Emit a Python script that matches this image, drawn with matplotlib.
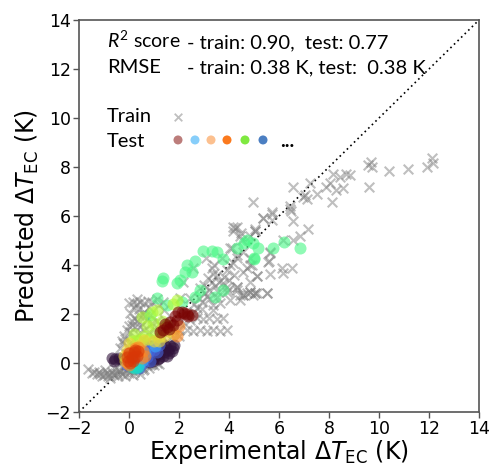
import matplotlib
matplotlib.use("Agg")
import matplotlib.pyplot as plt

# ---------------- data ----------------
train_x = [
    # lower band
    -1.65, -1.5, -1.3, -1.2, -1.0, -0.9, -0.8, -0.7, -0.6, -0.5, -0.4, -0.3, -0.2, -0.1, 0.0, 0.1, 0.2, 0.3, 0.4, 0.5,
    0.6, 0.7, 0.8, 0.9, 1.0, 1.1, 1.2, -1.1, -0.75, -0.45, -0.15, 0.15, 0.45, -0.95, -0.55, -0.25, 0.05, 0.35,
    -1.4, -1.15, -0.85, -0.65, -0.35, -0.05, 0.25, 0.55, 0.85, -0.3, -0.1, 0.1, 0.3, 0.6, 0.9, 1.3, 1.45,
    # left band
    -0.3, -0.2, -0.1, 0.0, 0.1, 0.2, 0.0, 0.15, 0.3, 0.45, 0.6, 0.75, 0.9, 1.1, 0.2, 0.4, 0.6, 0.3, 0.5, 0.7,
    0.9, 1.1, 0.35, 0.6, 0.8, 1.0, 1.3, 1.6, 1.8, 2.0, 0.2, 0.5, -0.1, 0.1, 0.7, 1.0, 1.3, 1.5, 1.7, 2.0,
    -0.35, -0.25, -0.15, 0.05, 0.25, 0.4, 0.55, 0.8, 1.2, 1.4, 0.05, 0.3, 0.1, 0.45, 0.65, 0.85, 1.25, 1.45,
    # rows
    2.3, 2.57, 2.84, 3.1, 3.37, 3.64, 3.9, 2.7, 2.95, 3.2, 3.5, 3.77, 2.45, 2.2,
    # middle cluster
    2.3, 2.6, 2.9, 3.37, 3.64, 4.04, 4.44, 4.3, 4.7, 5.1, 5.5, 5.04, 4.84, 4.57, 4.3, 5.1, 4.84, 4.7, 4.17, 3.17,
    3.5, 4.04, 4.3, 4.57, 4.84, 2.84, 3.04, 3.9, 4.44, 4.97, 2.44, 2.04, 3.37, 2.7, 1.37, 2.17, 2.57, 3.3, 4.04, 4.3,
    4.17, 4.84, 5.04, 4.57, 4.84, 3.07, 3.4, 4.16, 4.47, 4.13, 3.0, 3.2, 3.6, 3.8, 3.9, 3.5, 3.2, 2.9, 2.6, 3.7,
    3.9, 4.0, 3.3, 3.45, 3.75, 3.1, 2.8, 3.55, 4.2, 3.95, 3.35,
    # upper right
    12.1, 12.17, 11.9, 11.15, 10.4, 9.57, 9.68, 9.7, 9.6, 8.84, 8.68, 8.44, 8.15, 8.04, 8.27, 8.55, 7.88, 8.1, 7.53, 7.24,
    7.04, 7.1, 6.97, 6.57, 4.97, 6.44, 6.47, 5.7, 6.57, 5.35, 5.7, 5.04, 7.17, 6.84, 6.57, 6.17, 5.64, 5.6, 4.9, 4.5,
    6.1, 6.5, 4.24, 4.44, 5.04, 5.7, 6.44, 5.64, 5.57, 6.17, 5.64, 5.5, 5.04, 4.84, 4.57, 4.3, 5.1, 4.3, 5.37,
]
train_y = [
    -0.25, -0.4, -0.45, -0.35, -0.5, -0.4, -0.45, -0.35, -0.5, -0.4, -0.3, -0.45, -0.35, -0.25, -0.4, -0.3, -0.35, -0.2, -0.3, -0.15,
    -0.25, -0.1, -0.2, -0.05, -0.1, 0.0, -0.05, -0.55, -0.6, -0.55, -0.55, -0.5, -0.45, -0.3, -0.25, -0.2, -0.15, -0.05,
    -0.35, -0.45, -0.55, -0.45, -0.35, -0.3, -0.25, -0.3, -0.1, 0.1, 0.35, 0.5, 0.6, 0.75, 0.8, 0.75, 0.6,
    0.9, 1.1, 1.35, 1.5, 1.7, 1.85, 2.45, 2.5, 2.4, 2.5, 2.45, 2.55, 2.5, 2.6, 2.3, 2.2, 2.1, 1.7, 1.6, 1.75,
    1.65, 1.7, 1.2, 1.35, 1.25, 1.4, 1.3, 1.25, 1.4, 1.35, 1.0, 0.95, 0.7, 0.8, 0.9, 1.0, 1.05, 0.9, 0.95, 1.1,
    0.6, 0.8, 1.0, 1.25, 1.45, 1.95, 2.0, 2.3, 2.35, 2.15, 2.05, 2.6, 1.55, 1.45, 1.9, 1.95, 1.55, 1.75,
    1.35, 1.3, 1.35, 1.3, 1.35, 1.3, 1.35, 1.84, 1.8, 1.84, 1.8, 1.84, 1.75, 1.65,
    2.0, 2.1, 2.2, 2.16, 2.45, 2.57, 2.57, 2.98, 2.86, 2.86, 2.84, 2.84, 2.9, 2.78, 3.1, 3.54, 4.0, 3.86, 4.07, 3.46,
    3.6, 4.0, 4.27, 3.73, 3.32, 3.06, 2.84, 2.9, 2.78, 2.78, 2.64, 2.64, 2.37, 2.23, 2.5, 3.32, 3.86, 3.86, 4.68, 4.4,
    5.37, 5.2, 5.4, 4.54, 4.27, 4.27, 4.0, 5.54, 5.32, 4.68, 3.2, 3.0, 3.3, 3.5, 3.1, 2.7, 2.6, 2.5, 2.4, 4.3,
    3.8, 3.4, 3.3, 3.15, 3.25, 2.75, 2.65, 2.9, 3.6, 3.0, 3.65,
    8.35, 8.15, 8.0, 7.9, 7.84, 8.08, 8.2, 7.98, 7.17, 7.67, 7.71, 7.6, 7.7, 7.36, 7.06, 7.13, 7.17, 6.59, 6.9, 7.33,
    6.86, 6.68, 6.76, 7.2, 6.59, 6.39, 6.22, 6.18, 5.8, 5.9, 5.84, 5.46, 5.46, 5.18, 5.02, 5.02, 4.54, 4.17, 4.0, 5.02,
    3.86, 3.86, 5.5, 5.2, 5.4, 6.1, 6.3, 4.47, 4.13, 3.66, 3.63, 2.84, 2.84, 2.9, 2.78, 3.1, 3.54, 5.57, 5.9,
]

# test sets, one colour each (turbo colormap position)
test_levels = [0.0, 0.12, 0.22, 0.32, 0.40, 0.52, 0.62, 0.74, 0.86, 1.0]
test_x = [
    [-0.7, -0.55, -0.4, -0.3, 0.9, 1.0, 1.2, 1.4, 1.55, 1.65, 1.3, 1.1, 0.8, 1.5, 1.7, 1.2, -0.6, 0.95, 1.15, 1.35,
     1.6, 1.75, 1.45, 1.25, 1.05, 0.85, 0.75, 1.8],
    [0.7, 0.55, 0.4, 0.8, 0.6, 0.9, 1.0, 1.2, 1.1, -0.1, 0.45, 0.85],
    [0.3, 0.5, 0.2, 0.65, 1.05, 0.4],
    [0.1, 0.0, 0.25, -0.05, 0.35],
    [2.97, 3.3, 3.5, 3.77, 2.64, 2.3, 2.24, 2.5, 2.04, 1.9, 1.37, 1.3, 2.84, 3.44, 3.77, 2.64, 4.97, 4.7, 5.0, 4.6,
     5.17, 5.77, 6.2, 6.84, 5.0, 4.33, 1.1, 2.1, 1.5, 0.85],
    [1.9, 1.77, 0.9, 1.1, 0.5, 0.3, 0.5, 0.8, 1.0, 0.7, 1.3, 0.2, 0.1, 1.5, 0.95, 0.6, 1.2],
    [-0.1, 1.2, 1.4, 1.6, 1.8, 0.0, -0.2, 1.0, 0.4, 0.6, 1.3, -0.15],
    [0.24, 0.4, -0.1, 0.5, 0.0, 1.9, 2.0, 0.55, 0.35, -0.05, 0.65],
    [0.1, -0.05, 0.2, 0.3, 0.0, 0.15, 0.25, -0.1, 0.35, 0.05, 0.2],
    [2.37, 1.97, 1.64, 1.37, 1.5, 1.84, 2.2, 1.77, 2.5, 2.1, 1.6, 1.25, 1.9, 2.3, 1.45],
]
test_y = [
    [0.2, 0.18, 0.2, 0.15, 0.15, 0.25, 0.35, 0.45, 0.55, 0.7, 0.6, 0.4, 0.05, 0.3, 0.5, 0.2, 0.1, 0.1, 0.15, 0.3,
     0.4, 0.6, 0.7, 0.5, 0.3, 0.2, 0.35, 0.75],
    [0.26, 0.0, -0.2, 0.5, 0.7, 0.7, 0.55, 0.75, 0.45, -0.1, 0.3, 0.1],
    [-0.15, 0.1, 0.0, 0.4, 0.7, -0.05],
    [-0.15, 0.0, -0.2, 0.3, -0.15],
    [4.58, 4.58, 4.54, 4.23, 4.15, 4.0, 3.7, 3.73, 3.39, 3.25, 3.46, 3.33, 3.0, 2.7, 3.0, 2.7, 4.89, 5.02, 4.27, 4.89,
     4.68, 4.7, 4.92, 4.68, 4.24, 4.68, 2.64, 2.5, 2.37, 1.95],
    [2.57, 2.4, 2.1, 2.16, 1.87, 0.94, 1.0, 1.0, 1.2, 1.5, 1.7, 1.2, 0.9, 1.55, 1.65, 1.1, 1.05],
    [0.53, 0.9, 1.1, 1.3, 1.2, 0.8, 0.3, 0.9, 0.75, 0.95, 1.4, 0.1],
    [0.6, 0.45, 0.0, 0.2, -0.1, 1.1, 1.5, 0.5, 0.65, 0.4, 0.3],
    [0.26, 0.1, 0.45, 0.3, 0.4, 0.1, 0.55, 0.25, 0.5, 0.0, 0.2],
    [1.92, 2.1, 1.69, 1.35, 1.48, 1.9, 2.04, 1.55, 1.95, 2.1, 1.4, 1.25, 1.75, 2.0, 1.6],
]

legend_colors = ["#bc7d7b", "#87cefa", "#fcc08f", "#fb7a1e", "#7fe940", "#4b7fc2"]
x_ticks = [-2, 0, 2, 4, 6, 8, 10, 12, 14]
y_ticks = [-2, 0, 2, 4, 6, 8, 10, 12, 14]

# ---------------- figure ----------------
plt.rcParams['mathtext.fontset'] = 'dejavusans'
plt.rcParams['mathtext.rm'] = 'Lato'
plt.rcParams['mathtext.it'] = 'Lato:italic'

fig = plt.figure(figsize=(4.92, 4.67), dpi=100)
ax = fig.add_axes([79/492, 1-412/467, 400/492, 392/467])

ax.plot([-2, 14], [-2, 14], linestyle=(0, (1, 2)), color='black', lw=1.2, zorder=1)
ax.scatter(train_x, train_y, marker='x', s=48, color='gray', alpha=0.5, linewidths=1.5, zorder=2)

cmap = plt.get_cmap('turbo')
for lev, xs, ys in zip(test_levels, test_x, test_y):
    ax.scatter(xs, ys, marker='o', s=75, color=cmap(lev), alpha=0.6, linewidths=0, zorder=3)

ax.set_xlim(-2, 14)
ax.set_ylim(-2, 14)
ax.set_xticks(x_ticks)
ax.set_yticks(y_ticks)
ax.tick_params(labelsize=12.5, color='#555555', length=4, width=1, pad=2)
for sp in ax.spines.values():
    sp.set_color('#555555')
    sp.set_linewidth(1.2)

ax.set_xlabel(r'Experimental $\Delta T_{\mathrm{EC}}$ (K)', fontsize=17, labelpad=0)
ax.set_ylabel(r'Predicted $\Delta T_{\mathrm{EC}}$ (K)', fontsize=17, labelpad=3)

tfont = dict(family='Lato', color='black', transform=ax.transAxes, va='baseline')
ax.text(0.07, 0.928, r'$R^2$ score', math_fontfamily='custom', fontsize=14, **tfont)
ax.text(0.27, 0.928, '- train: 0.90,  test: 0.77', fontsize=14.5, **tfont)
ax.text(0.07, 0.864, 'RMSE', fontsize=14.5, **tfont)
ax.text(0.27, 0.864, '- train: 0.38 K, test:  0.38 K', fontsize=14.5, **tfont)
ax.text(0.07, 0.7406, 'Train', fontsize=14.5, **tfont)
ax.text(0.07, 0.6768, 'Test', fontsize=14.5, **tfont)

ax.scatter([0.2475], [0.7526], transform=ax.transAxes, marker='x', s=30, color='gray', alpha=0.5,
           linewidths=1.3, clip_on=False, zorder=5)
dot_x = [0.2475, 0.29, 0.33, 0.37, 0.415, 0.46]
ax.scatter(dot_x, [0.694] * len(dot_x), transform=ax.transAxes, marker='o', s=42,
           color=legend_colors, linewidths=0, clip_on=False, zorder=5)
ax.text(0.502, 0.6768, '...', fontsize=14.5, fontweight='bold', family='Lato', transform=ax.transAxes,
        va='baseline')

fig.savefig('out.png', dpi=100)
